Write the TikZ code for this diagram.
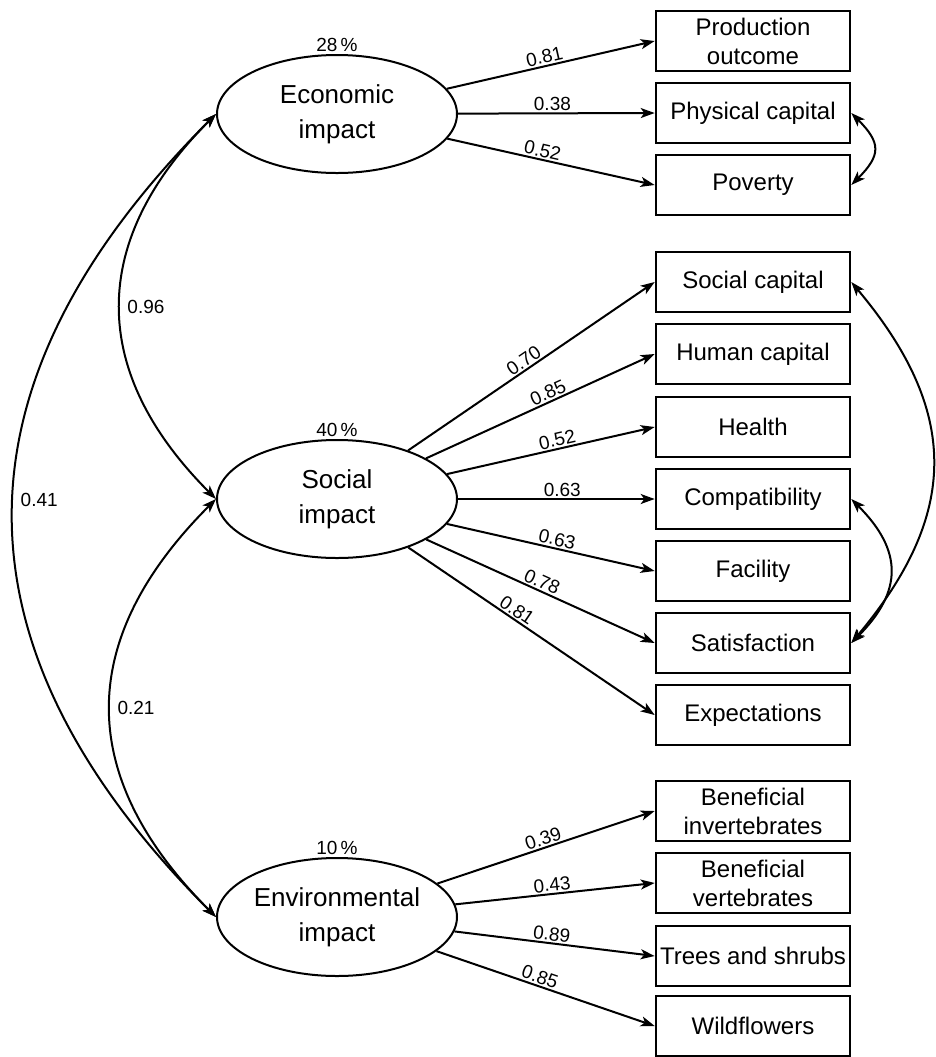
\documentclass[tikz,border=0pt]{standalone}
\usepackage{fontspec}
\setmainfont{Liberation Sans}
\usetikzlibrary{shapes.geometric,arrows.meta,positioning}

\begin{document}
\begin{tikzpicture}[x=0.5pt, y=0.5pt,
    latent/.style={draw, ellipse, line width=1pt, minimum width=120pt, minimum height=59pt,
        inner sep=0pt, align=center, font=\fontsize{13}{17.5}\selectfont},
    obs/.style={draw, rectangle, line width=1.3pt, minimum width=97pt, minimum height=30pt,
        inner sep=0pt, align=center, font=\fontsize{12}{14.5}\selectfont},
    load/.style={line width=1pt, -{Stealth[length=7pt, width=5pt, inset=1.8pt]}},
    cov/.style={line width=1pt, {Stealth[length=7pt, width=5pt, inset=1.8pt]}-{Stealth[length=7pt, width=5pt, inset=1.8pt]}},
    coef/.style={font=\fontsize{9.5}{11}\selectfont, sloped, above, inner sep=0.8pt, pos=0.48},
    covlab/.style={font=\fontsize{9.5}{11}\selectfont, right, inner sep=3pt},
    pct/.style={font=\fontsize{9.5}{11}\selectfont, inner sep=1pt}]

    \useasboundingbox (0,0) rectangle (936,-1057);

    % latent factors
    \node[latent] (eco) at (337,-114) {Economic\\impact};
    \node[latent] (soc) at (337,-499) {Social\\impact};
    \node[latent] (env) at (337,-917) {Environmental\\impact};

    \node[pct, above=0pt of eco] (ecopct) {28\,\%};
    \node[pct, above=0pt of soc] (socpct) {40\,\%};
    \node[pct, above=0pt of env] (envpct) {10\,\%};

    % indicators
    \node[obs] (prod) at (753,-41)  {Production\\outcome};
    \node[obs] (phys) at (753,-113) {Physical capital};
    \node[obs] (pov)  at (753,-185) {Poverty};

    \node[obs] (scap) at (753,-282) {Social capital};
    \node[obs] (hcap) at (753,-354) {Human capital};
    \node[obs] (hlth) at (753,-427) {Health};
    \node[obs] (comp) at (753,-499) {Compatibility};
    \node[obs] (fac)  at (753,-571) {Facility};
    \node[obs] (sat)  at (753,-643) {Satisfaction};
    \node[obs] (expc) at (753,-715) {Expectations};

    \node[obs] (binv) at (753,-811)  {Beneficial\\invertebrates};
    \node[obs] (bver) at (753,-883)  {Beneficial\\vertebrates};
    \node[obs] (tree) at (753,-956)  {Trees and shrubs};
    \node[obs] (wild) at (753,-1026) {Wildflowers};

    % loadings
    \draw[load] (eco) -- node[coef] {0.81} (prod.west);
    \draw[load] (eco) -- node[coef] {0.38} (phys.west);
    \draw[load] (eco) -- node[coef, pos=0.45] {0.52} (pov.west);

    \draw[load] (soc) -- node[coef, pos=0.49] {0.70} (scap.west);
    \draw[load] (soc) -- node[coef, pos=0.55] {0.85} (hcap.west);
    \draw[load] (soc) -- node[coef, pos=0.54] {0.52} (hlth.west);
    \draw[load] (soc) -- node[coef, pos=0.53] {0.63} (comp.west);
    \draw[load] (soc) -- node[coef, pos=0.52] {0.63} (fac.west);
    \draw[load] (soc) -- node[coef, pos=0.49] {0.78} (sat.west);
    \draw[load] (soc) -- node[coef, pos=0.42] {0.81} (expc.west);

    \draw[load] (env) -- node[coef, pos=0.5] {0.39} (binv.west);
    \draw[load] (env) -- node[coef, pos=0.49] {0.43} (bver.west);
    \draw[load] (env) -- node[coef] {0.89} (tree.west);
    \draw[load] (env) -- node[coef, pos=0.46] {0.85} (wild.west);

    % factor covariances
    \draw[cov] (eco.west) to[out=225, in=135, looseness=1.2] node[covlab] {0.96} (soc.west);
    \draw[cov] (eco.west) to[out=225, in=135, looseness=1.22] node[covlab, pos=0.48] {0.41} (env.west);
    \draw[cov] (soc.west) to[out=225, in=135, looseness=1.22] node[covlab] {0.21} (env.west);

    % error covariances
    \draw[cov] (phys.east) to[out=-45, in=45, looseness=1.5] (pov.east);
    \draw[cov] (scap.east) to[out=-50, in=50, looseness=1.2] (sat.east);
    \draw[cov] (comp.east) to[out=-45, in=45, looseness=1.3] (sat.east);

\end{tikzpicture}
\end{document}
